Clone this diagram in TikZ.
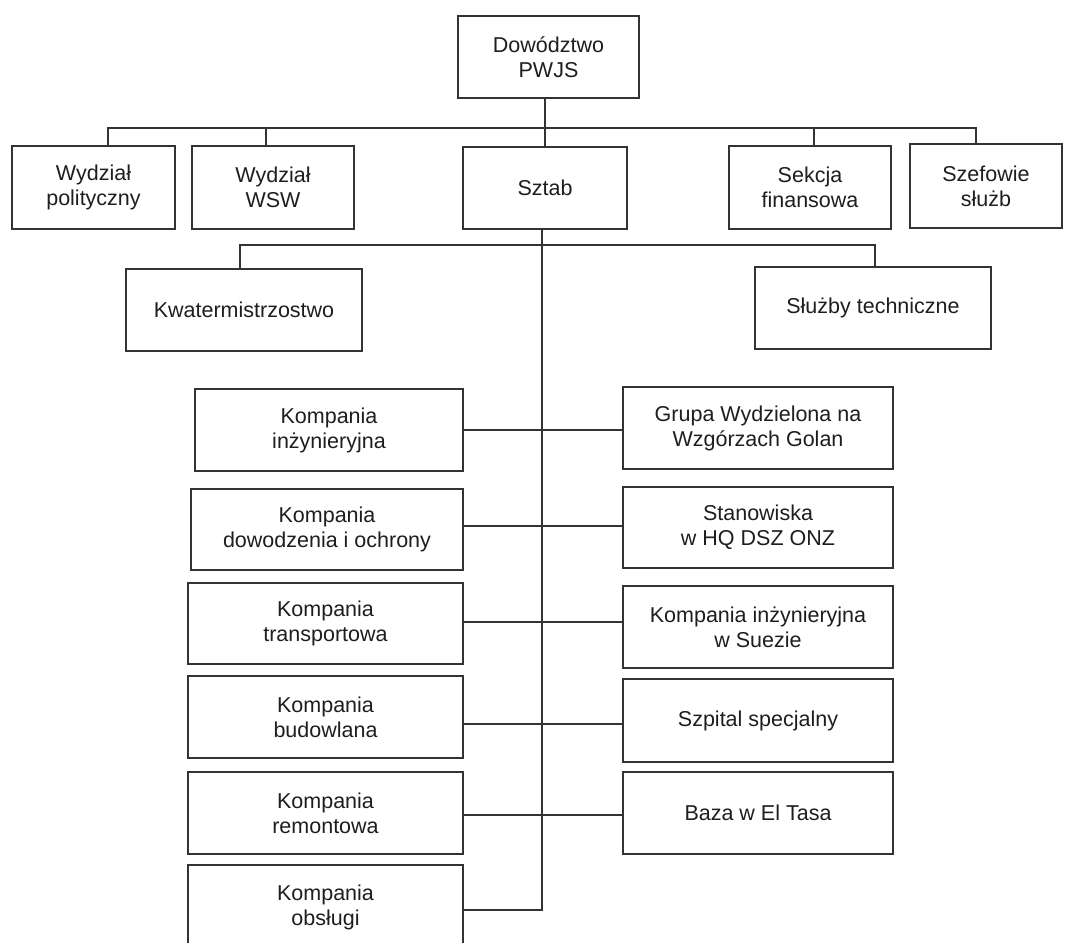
\documentclass[tikz,border=0pt]{standalone}
\usepackage{fontspec}
\setmainfont{Liberation Sans}
\definecolor{ln}{HTML}{333333}
\definecolor{tx}{HTML}{1E1E1E}
\begin{document}
\begin{tikzpicture}[x=1pt,y=-1pt,
  box/.style={draw=ln,line width=1.6pt,fill=white,align=center,text=tx,inner sep=0pt,
    font=\fontsize{21.5}{25}\selectfont},
  conn/.style={draw=ln,line width=1.6pt}]
\useasboundingbox (0,0) rectangle (1065,942);
\fill[white] (0,0) rectangle (1065,942);
% nodes
\node[box,minimum width=181pt,minimum height=82pt] (top) at (548.5,57) {Dowództwo\\PWJS};
\node[box,minimum width=163pt,minimum height=83pt] (pol) at (93.5,187.5) {Wydział\\polityczny};
\node[box,minimum width=162pt,minimum height=83pt] (wsw) at (273,187.5) {Wydział\\WSW};
\node[box,minimum width=164pt,minimum height=82pt] (sztab) at (545,188) {Sztab};
\node[box,minimum width=162pt,minimum height=83pt] (sek) at (810,187.5) {Sekcja\\finansowa};
\node[box,minimum width=152pt,minimum height=84pt] (szef) at (986,186) {Szefowie\\służb};
\node[box,minimum width=236pt,minimum height=82pt] (kwat) at (244,310) {Kwatermistrzostwo};
\node[box,minimum width=236pt,minimum height=82pt] (sluz) at (873,308) {Służby techniczne};
\node[box,minimum width=268pt,minimum height=82pt] (inz) at (329,430) {Kompania\\inżynieryjna};
\node[box,minimum width=272pt,minimum height=81pt] (dow) at (327,529.5) {Kompania\\dowodzenia i ochrony};
\node[box,minimum width=275pt,minimum height=81pt] (tra) at (325.5,623.5) {Kompania\\transportowa};
\node[box,minimum width=275pt,minimum height=82pt] (bud) at (325.5,717) {Kompania\\budowlana};
\node[box,minimum width=275pt,minimum height=82pt] (rem) at (325.5,813) {Kompania\\remontowa};
\node[box,minimum width=275pt,minimum height=84pt] (obs) at (325.5,907) {Kompania\\obsługi};
\node[box,minimum width=270pt,minimum height=82pt] (gru) at (758,428) {Grupa Wydzielona na\\Wzgórzach Golan};
\node[box,minimum width=270pt,minimum height=81pt] (sta) at (758,527.5) {Stanowiska\\w HQ DSZ ONZ};
\node[box,minimum width=270pt,minimum height=82pt] (sue) at (758,627) {Kompania inżynieryjna\\w Suezie};
\node[box,minimum width=270pt,minimum height=83pt] (szp) at (758,720.5) {Szpital specjalny};
\node[box,minimum width=270pt,minimum height=82pt] (baz) at (758,813) {Baza w El Tasa};
% coordinates
\coordinate (b1l) at (108,128);
\coordinate (b1r) at (976,128);
\coordinate (dwsw) at (266,128);
\coordinate (dsek) at (814,128);
\coordinate (dtop) at (545,128);
\coordinate (b2l) at (240,245);
\coordinate (b2r) at (875,245);
\coordinate (vx) at (542,245);
\coordinate (vend) at (542,910);
\coordinate (l1) at (0,430);
\coordinate (l2) at (0,526);
\coordinate (l3) at (0,622);
\coordinate (l4) at (0,724);
\coordinate (l5) at (0,815);
% connectors level 1
\draw[conn] (dtop |- top.south) -- (dtop |- sztab.north);
\draw[conn] (b1l |- pol.north) -- (b1l) -- (b1r) -- (b1r |- szef.north);
\draw[conn] (dwsw) -- (dwsw |- wsw.north);
\draw[conn] (dsek) -- (dsek |- sek.north);
% level 2
\draw[conn] (b2l |- kwat.north) -- (b2l) -- (b2r) -- (b2r |- sluz.north);
\draw[conn] (vx |- sztab.south) -- (vend) -- (vend -| obs.east);
% rows
\draw[conn] (inz.east |- l1) -- (gru.west |- l1);
\draw[conn] (dow.east |- l2) -- (sta.west |- l2);
\draw[conn] (tra.east |- l3) -- (sue.west |- l3);
\draw[conn] (bud.east |- l4) -- (szp.west |- l4);
\draw[conn] (rem.east |- l5) -- (baz.west |- l5);
\end{tikzpicture}
\end{document}
